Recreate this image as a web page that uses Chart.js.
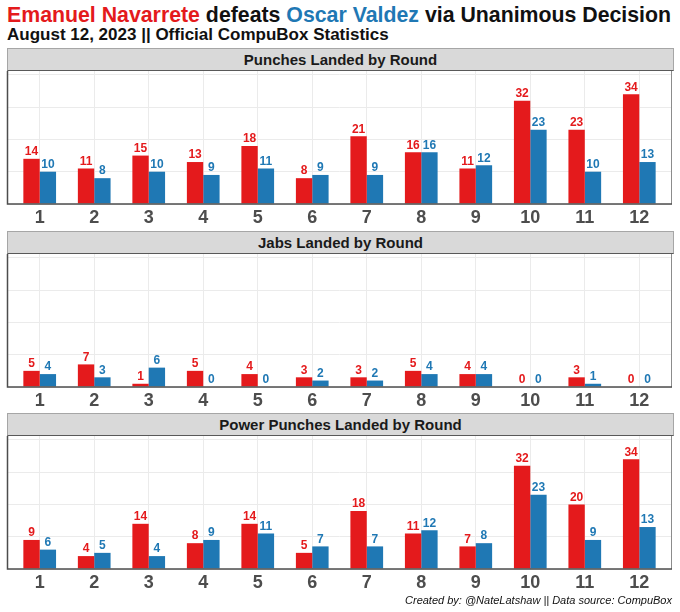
<!DOCTYPE html>
<html>
<head>
<meta charset="utf-8">
<script src="https://cdn.jsdelivr.net/npm/chart.js@4.4.1/dist/chart.umd.min.js"></script>
<style>
  body { margin: 0; background: #fff; font-family: "Liberation Sans", Arial, sans-serif; }
  #wrap { position: relative; width: 680px; height: 612px; overflow: hidden; }
  .title { position: absolute; left: 7px; top: 3px; font-size: 21.3px; font-weight: bold; color: #111; white-space: nowrap; }
  .sub { position: absolute; left: 7px; top: 25px; font-size: 17px; font-weight: bold; color: #111; white-space: nowrap; }
  .strip { position: absolute; left: 7px; width: 665px; height: 21px; background: #d9d9d9;
           border: 1px solid #a6a6a6; border-bottom-color: #595959; text-align: center;
           font-size: 15px; font-weight: bold; line-height: 21px; color: #1a1a1a; }
  .panel { position: absolute; left: 0; width: 680px; height: 160px; }
  .cap { position: absolute; right: 8px; top: 594px; font-size: 11px; font-style: italic; color: #111; white-space: nowrap; }
</style>
</head>
<body>
<div id="wrap">
  <div class="title"><span style="color:#e41a1c">Emanuel Navarrete</span> defeats <span style="color:#1f78b4">Oscar Valdez</span> via Unanimous Decision</div>
  <div class="sub">August 12, 2023 || Official CompuBox Statistics</div>
  <div class="strip" style="top:48px">Punches Landed by Round</div>
  <div class="panel" style="top:71px"><canvas id="c1"></canvas></div>
  <div class="strip" style="top:231px">Jabs Landed by Round</div>
  <div class="panel" style="top:254px"><canvas id="c2"></canvas></div>
  <div class="strip" style="top:413px">Power Punches Landed by Round</div>
  <div class="panel" style="top:436px"><canvas id="c3"></canvas></div>
  <div class="cap">Created by: @NateLatshaw || Data source: CompuBox</div>
</div>
<script>
const rounds = [1, 2, 3, 4, 5, 6, 7, 8, 9, 10, 11, 12];
const yTicks = [0, 10, 20, 30, 40];

const punchesNavarrete = [14, 11, 15, 13, 18, 8, 21, 16, 11, 32, 23, 34];
const punchesValdez = [10, 8, 10, 9, 11, 9, 9, 16, 12, 23, 10, 13];
const jabsNavarrete = [5, 7, 1, 5, 4, 3, 3, 5, 4, 0, 3, 0];
const jabsValdez = [4, 3, 6, 0, 0, 2, 2, 4, 4, 0, 1, 0];
const powerNavarrete = [9, 4, 14, 8, 14, 5, 18, 11, 7, 32, 20, 34];
const powerValdez = [6, 5, 4, 9, 11, 7, 7, 12, 8, 23, 9, 13];

const RED = "#e41a1c";
const BLUE = "#1f78b4";
const FONT = '"Liberation Sans", Arial, sans-serif';

// value labels above bars + panel frame
const barLabels = {
  id: "barLabels",
  afterDatasetsDraw(chart) {
    const ctx = chart.ctx;
    const a = chart.chartArea;
    ctx.save();
    ctx.font = "bold 12px " + FONT;
    ctx.textAlign = "center";
    ctx.textBaseline = "bottom";
    chart.data.datasets.forEach((ds, i) => {
      chart.getDatasetMeta(i).data.forEach((bar, j) => {
        ctx.fillStyle = ds.backgroundColor;
        ctx.fillText(ds.data[j].y, bar.x, bar.y - 1);
      });
    });
    // frame
    ctx.lineWidth = 1;
    ctx.strokeStyle = "#8c8c8c";
    ctx.beginPath();
    ctx.moveTo(a.right - 0.5, a.top);
    ctx.lineTo(a.right - 0.5, a.bottom);
    ctx.stroke();
    ctx.lineWidth = 1.5;
    ctx.strokeStyle = "#4d4d4d";
    ctx.beginPath();
    ctx.moveTo(a.left + 0.5, a.top);
    ctx.lineTo(a.left + 0.5, a.bottom);
    ctx.lineTo(a.right, a.bottom);
    ctx.stroke();
    ctx.restore();
  }
};

function initChart(id, red, blue) {
  new Chart(document.getElementById(id), {
    type: "bar",
    plugins: [barLabels],
    data: {
      datasets: [
        { label: "Navarrete", data: rounds.map((r, i) => ({ x: r, y: red[i] })), backgroundColor: RED },
        { label: "Valdez", data: rounds.map((r, i) => ({ x: r, y: blue[i] })), backgroundColor: BLUE },
      ],
    },
    options: {
      responsive: true,
      maintainAspectRatio: false,
      animation: false,
      categoryPercentage: 0.6,
      barPercentage: 1.0,
      layout: { padding: { left: 7, right: 8, top: 0, bottom: 0 } },
      plugins: { legend: { display: false }, title: { display: false }, tooltip: { enabled: false } },
      scales: {
        x: {
          type: "linear",
          min: 0.4,
          max: 12.6,
          offset: false,
          afterBuildTicks: (s) => { s.ticks = rounds.map((v) => ({ value: v })); },
          afterFit: (s) => { s.height = 27; },
          grid: { color: "#ebebeb", drawTicks: false, offset: false },
          border: { display: false },
          ticks: { color: "#4d4d4d", padding: 3, font: { family: FONT, size: 18, weight: "bold" } },
        },
        y: {
          min: 0,
          max: 41.2,
          afterBuildTicks: (s) => { s.ticks = yTicks.map((v) => ({ value: v })); },
          afterFit: (s) => { s.width = 0; },
          grid: { color: "#ebebeb", drawTicks: false },
          border: { display: false },
          ticks: { display: false },
        },
      },
    },
  });
}

initChart("c1", punchesNavarrete, punchesValdez);
initChart("c2", jabsNavarrete, jabsValdez);
initChart("c3", powerNavarrete, powerValdez);
</script>
</body>
</html>
